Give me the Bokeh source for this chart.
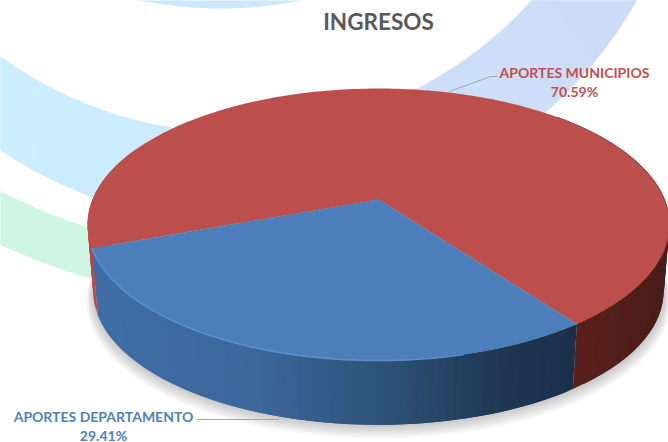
import numpy as np
from bokeh.plotting import figure
from bokeh.embed import file_html
from bokeh.resources import INLINE
from bokeh.core.properties import value

title_text = "INGRESOS"
categories = ["APORTES MUNICIPIOS", "APORTES DEPARTAMENTO"]
shares = [70.59, 29.41]
slice_colors = ["#BC4F4B", "#4C7EBA"]
label_colors = ["#C0504D", "#4F81BD"]

# pie geometry (screen px of a 668x442 page)
CX, CY = 378.0, 199.0
K, A, C = 0.184, 131.4, 286.0
DEPTH, LOWER = 67.5, 0.98
BLUE_START = 53.8  # rotation of the first slice, degrees clockwise on screen

W, H = 668, 442
p = figure(width=W, height=H, x_range=(0, 668), y_range=(442, 0),
           toolbar_location=None, output_backend="svg", min_border=0,
           x_axis_type="linear", y_axis_type="linear")
p.axis.visible = False
p.grid.visible = False
p.outline_line_color = None
p.background_fill_color = "#ffffff"


def proj(deg, scale=1.0, drop=0.0):
    t = np.radians(deg)
    u, v = np.cos(t), np.sin(t)
    w = 1 - K * v
    return CX + scale * C * u / w, CY + drop + scale * A * v / w


def mix(stops, x):
    xs = [s[0] for s in stops]
    rgb = [np.interp(x, xs, [int(s[1][i:i + 2], 16) for s in stops]) for i in (1, 3, 5)]
    return "#%02x%02x%02x" % tuple(int(round(c)) for c in rgb)


def ring(cx1, cy1, r1, cx2, cy2, r2, a0, a1, stops, n=60):
    ed = np.linspace(a0, a1, n + 2)
    xs, ys, cs = [], [], []
    for i in range(n):
        t = np.radians([ed[i], ed[i + 2]])
        xa = cx1 + r1 * np.cos(t); ya = cy1 + r1 * np.sin(t)
        xb = cx2 + r2 * np.cos(t); yb = cy2 + r2 * np.sin(t)
        xs.append([xa[0], xa[1], xb[1], xb[0]])
        ys.append([ya[0], ya[1], yb[1], yb[0]])
        cs.append(mix(stops, (xa[0] + xb[0]) / 2))
    p.patches(xs, ys, fill_color=cs, line_color=None)


# decorative background rings
ring(240, -265, 515, 240, -265, 563, 90, 175,
     [(0, "#cff5e3"), (700, "#cff5e3")])
ring(234.5, -266, 398.5, 248, -223, 448, 25, 175,
     [(0, "#ccefff"), (250, "#cce8ff"), (430, "#cce0fa"), (640, "#cddbf5")])
tt = np.linspace(75, 105, 40)
p.patch(220 + 404 * np.cos(np.radians(tt)), -396 + 404 * np.sin(np.radians(tt)),
        fill_color="#cce8ff", line_color=None)

# soft shadow under the pie
sh = np.linspace(0, 360, 241)
for i in range(1, 7):
    sx, sy = proj(sh, LOWER + 0.004 * i, DEPTH + 1.6 * i)
    p.patch(sx, sy, fill_color="#000000", fill_alpha=0.035, line_color=None)

# slice angles follow the data
blue_sweep = shares[1] / sum(shares) * 360
BLUE_END = BLUE_START + blue_sweep


def wall(a0, a1, stops, n):
    ed = np.linspace(a0, a1, n + 2)
    xs, ys, cs = [], [], []
    for i in range(n):
        x0, y0 = proj(ed[i:i + 3:2])
        x1, y1 = proj(ed[i:i + 3:2], LOWER, DEPTH)
        xs.append([x0[0], x0[1], x1[1], x1[0]])
        ys.append([y0[0], y0[1], y1[1], y1[0]])
        cs.append(mix(stops, (x0[0] + x0[1]) / 2))
    p.patches(xs, ys, fill_color=cs, line_color=None)


red_stops = [(570, "#5c201a"), (668, "#481d1a")]
wall(-25, BLUE_START, red_stops, 30)
wall(BLUE_END, BLUE_END + 45, [(80, "#c4443f"), (100, "#c4443f")], 20)
wall(BLUE_START, BLUE_END, [(88, "#3f6fa6"), (250, "#3b679c"), (378, "#2e5279"),
                            (500, "#203751"), (575, "#1b2f49")], 80)

# top face
ang_red = np.linspace(BLUE_END, BLUE_START + 360, 240)
rx, ry = proj(ang_red)
p.patch(np.r_[CX, rx], np.r_[CY, ry], fill_color=slice_colors[0], line_color=None)
ang_blue = np.linspace(BLUE_START, BLUE_END, 120)
bx, by = proj(ang_blue)
p.patch(np.r_[CX, bx], np.r_[CY, by], fill_color=slice_colors[1], line_color=None)

# rims
rimx, rimy = proj(np.linspace(BLUE_START + 22, BLUE_END, 90))
p.line(rimx, rimy, line_color="#5a8fcf", line_width=1.6)
ex, ey = proj(np.linspace(-45, 25, 60))
p.line(ex, ey, line_color="#8a423f", line_width=1)

# leader lines
lead_x = [[449, 490, 497], [197, 278]]
lead_y = [[91, 76, 76], [419, 419]]
p.multi_line(lead_x, lead_y, line_color="#a6a6a6", line_width=1)

# texts
font = value("Lato")
p.text([378], [21], text=[title_text], text_font=font, text_font_style="bold",
       text_font_size="22.5px", text_color="#595959", text_align="center",
       text_baseline="middle")
label_x = [574, 103]
label_y1 = [72, 416]
label_y2 = [91, 434.5]
for i in range(2):
    p.text([label_x[i]], [label_y1[i]], text=[categories[i]], text_font=font,
           text_font_style="bold", text_font_size="14px", text_color=label_colors[i],
           text_align="center", text_baseline="middle")
    p.text([label_x[i]], [label_y2[i]], text=["%.2f%%" % shares[i]], text_font=font,
           text_font_style="bold", text_font_size="14px", text_color=label_colors[i],
           text_align="center", text_baseline="middle")

open("out.html", "w").write(file_html(p, INLINE))
